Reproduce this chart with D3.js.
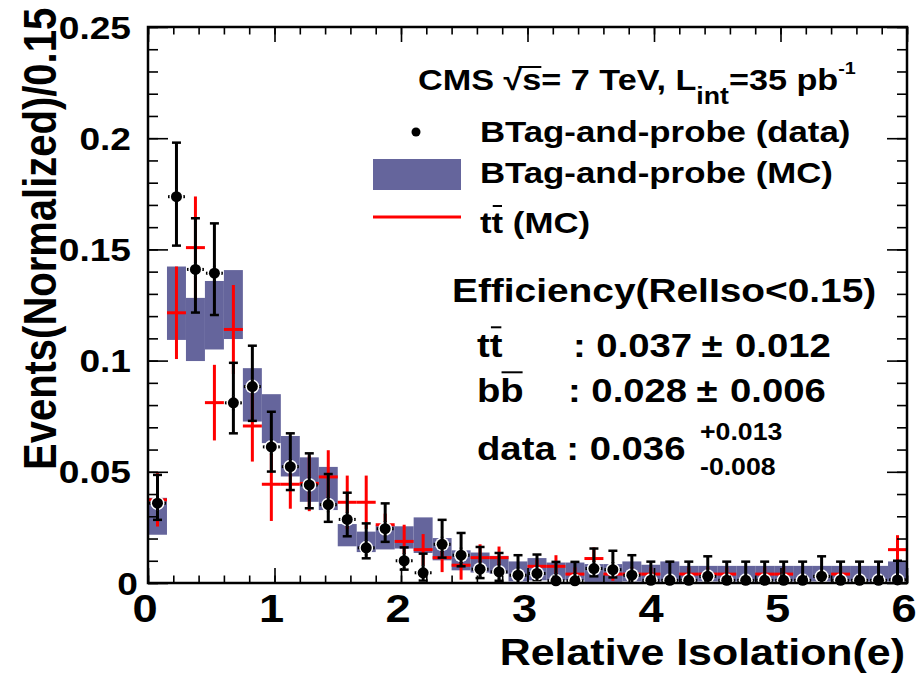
<!DOCTYPE html>
<html>
<head>
<meta charset="utf-8">
<script src="https://cdn.jsdelivr.net/npm/d3@7"></script>
<style>
body { margin:0; background:#fff; }
svg { display:block; }
text { font-family:"Liberation Sans", Arial, sans-serif; font-weight:bold; fill:#000; }
</style>
</head>
<body>
<script>
// histogram: 40 bins of 0.15 in relative isolation
var binWidth = 0.15;
var nBins = 40;

// BTag-and-probe data (value, up error, down error)
var dataVal = [0.0359,0.1737,0.141,0.1393,0.081,0.0883,0.0612,0.0523,0.0441,0.0352,0.0286,0.0158,0.0244,0.010,0.0046,0.0174,0.0125,0.0062,0.005,0.0035,0.0043,0.0010,0.0010,0.0065,0.0060,0.0035,0.0012,0.0012,0.0012,0.0030,0.0012,0.0012,0.0012,0.0012,0.0012,0.0030,0.0012,0.0012,0.0012,0.0014];
var dataUp  = [0.0127,0.0243,0.023,0.0224,0.018,0.0184,0.0158,0.015,0.0142,0.0138,0.012,0.011,0.0114,0.006,0.0086,0.011,0.010,0.010,0.0085,0.009,0.0085,0.0085,0.0085,0.009,0.0085,0.009,0.0084,0.0084,0.0084,0.009,0.0084,0.0084,0.0084,0.0084,0.0084,0.009,0.0084,0.0084,0.0084,0.0086];
var dataDn  = [0.0075,0.022,0.0194,0.0188,0.0137,0.0154,0.0111,0.0105,0.0105,0.0077,0.0076,0.0047,0.0059,0.004,0.0035,0.006,0.005,0.004,0.004,0.003,0.003,0.001,0.001,0.0035,0.0035,0.003,0.0012,0.0012,0.0012,0.003,0.0012,0.0012,0.0012,0.0012,0.0012,0.003,0.0012,0.0012,0.0012,0.0014];

// BTag-and-probe MC band (centre, half height)
var mcVal = [0.030,0.1258,0.114,0.1204,0.1252,0.0846,0.0739,0.057,0.0465,0.0425,0.0215,0.0185,0.0205,0.0205,0.0215,0.0152,0.0102,0.0092,0.0082,0.0052,0.0062,0.0052,0.0052,0.0045,0.0045,0.0052,0.0042,0.0052,0.0042,0.0042,0.0042,0.0042,0.0042,0.0042,0.0042,0.0042,0.0042,0.0042,0.0042,0.0052];
var mcErr = [0.0083,0.0165,0.0142,0.0154,0.0155,0.012,0.011,0.0091,0.010,0.0097,0.005,0.0046,0.0054,0.005,0.008,0.005,0.0045,0.0045,0.004,0.0045,0.005,0.004,0.004,0.004,0.004,0.0045,0.004,0.0045,0.0035,0.0035,0.0035,0.0035,0.0035,0.0035,0.0035,0.0035,0.0035,0.0035,0.0035,0.0045];

// ttbar MC (value, error); 0 = empty bin
var ttVal = [0.0374,0.1215,0.1508,0.0811,0.114,0.0706,0.0444,0.0444,0.0448,0.0477,0.0363,0.0363,0.0262,0.0187,0.015,0.0114,0.008,0.0114,0.0114,0,0.0075,0.0075,0.004,0.011,0.004,0.004,0.004,0,0.004,0.004,0.004,0,0.004,0.004,0,0,0.004,0,0,0.015];
var ttErr = [0.012,0.0208,0.023,0.017,0.020,0.016,0.0165,0.011,0.0125,0.012,0.012,0.012,0.005,0.0075,0.007,0.0065,0.0065,0.006,0.005,0,0.003,0.005,0.003,0.005,0.003,0.003,0.003,0,0.003,0.003,0.003,0,0.003,0.003,0,0,0.003,0,0,0.0065];

var yTickValues = [0, 0.05, 0.1, 0.15, 0.2, 0.25];
var yTickLabels = ["0", "0.05", "0.1", "0.15", "0.2", "0.25"];
var xTickValues = [0, 1, 2, 3, 4, 5, 6];
var xTickLabels = ["0", "1", "2", "3", "4", "5", "6"];

var W = 918, H = 673;
var SX = 1.16; // the picture is stretched sideways

var svg = d3.select(document.body).append('svg')
    .attr('width', W).attr('height', H);

var x = d3.scaleLinear().domain([0, 6]).range([148, 907]);
var y = d3.scaleLinear().domain([0, 0.25]).range([583, 27]);

var centers = d3.range(nBins).map(function(i){ return (i + 0.5) * binWidth; });
var bw = x(binWidth) - x(0);

// text helper, stretched along x
function stext(parent, px, py, size, anchor, str){
    var g = parent.append('g').attr('transform', 'translate(' + px + ',' + py + ') scale(' + SX + ',1)');
    var t = g.append('text').attr('font-size', size).attr('text-anchor', anchor || 'start');
    if (str !== undefined) t.text(str);
    return {g: g, t: t};
}

/** MC band */
svg.append('g').selectAll('rect')
    .data(centers)
    .join('rect')
    .attr('x', function(d){ return x(d - binWidth / 2); })
    .attr('width', bw)
    .attr('y', function(d, i){ return y(mcVal[i] + mcErr[i]); })
    .attr('height', function(d, i){ return y(Math.max(0, mcVal[i] - mcErr[i])) - y(mcVal[i] + mcErr[i]); })
    .attr('fill', '#65659c');

/** ttbar crosses */
var ttIdx = d3.range(nBins).filter(function(i){ return ttVal[i] > 0; });
var gtt = svg.append('g').attr('stroke', '#ff0000').attr('stroke-width', 3);
gtt.selectAll('line.v').data(ttIdx).join('line').attr('class', 'v')
    .attr('x1', function(i){ return x(centers[i]); })
    .attr('x2', function(i){ return x(centers[i]); })
    .attr('y1', function(i){ return y(ttVal[i] + ttErr[i]); })
    .attr('y2', function(i){ return y(Math.max(0, ttVal[i] - ttErr[i])); });
gtt.selectAll('line.h').data(ttIdx).join('line').attr('class', 'h')
    .attr('x1', function(i){ return x(centers[i] - binWidth / 2); })
    .attr('x2', function(i){ return x(centers[i] + binWidth / 2); })
    .attr('y1', function(i){ return y(ttVal[i]); })
    .attr('y2', function(i){ return y(ttVal[i]); });

/** data points */
var gd = svg.append('g').attr('stroke', '#000');
var idx = d3.range(nBins);
gd.selectAll('line.h').data(idx).join('line').attr('class', 'h')
    .attr('stroke-width', 3)
    .attr('x1', function(i){ return x(centers[i] - binWidth / 2) + 1; })
    .attr('x2', function(i){ return x(centers[i] + binWidth / 2) - 1; })
    .attr('y1', function(i){ return y(dataVal[i]); })
    .attr('y2', function(i){ return y(dataVal[i]); });
gd.selectAll('line.v').data(idx).join('line').attr('class', 'v')
    .attr('stroke-width', 3)
    .attr('x1', function(i){ return x(centers[i]); })
    .attr('x2', function(i){ return x(centers[i]); })
    .attr('y1', function(i){ return y(dataVal[i] + dataUp[i]); })
    .attr('y2', function(i){ return y(Math.max(0, dataVal[i] - dataDn[i])); });
gd.selectAll('line.cu').data(idx).join('line').attr('class', 'cu')
    .attr('stroke-width', 2.5)
    .attr('x1', function(i){ return x(centers[i]) - 4.5; })
    .attr('x2', function(i){ return x(centers[i]) + 4.5; })
    .attr('y1', function(i){ return y(dataVal[i] + dataUp[i]); })
    .attr('y2', function(i){ return y(dataVal[i] + dataUp[i]); });
var lowIdx = idx.filter(function(i){ return dataVal[i] - dataDn[i] > 0.0005; });
gd.selectAll('line.cd').data(lowIdx).join('line').attr('class', 'cd')
    .attr('stroke-width', 2.5)
    .attr('x1', function(i){ return x(centers[i]) - 4.5; })
    .attr('x2', function(i){ return x(centers[i]) + 4.5; })
    .attr('y1', function(i){ return y(dataVal[i] - dataDn[i]); })
    .attr('y2', function(i){ return y(dataVal[i] - dataDn[i]); });
gd.selectAll('circle.w').data(idx).join('circle').attr('class', 'w')
    .attr('stroke', 'none').attr('fill', '#fff').attr('r', 7)
    .attr('cx', function(i){ return x(centers[i]); })
    .attr('cy', function(i){ return y(dataVal[i]); });
gd.selectAll('line.v2').data(idx).join('line').attr('class', 'v2')
    .attr('stroke-width', 3)
    .attr('x1', function(i){ return x(centers[i]); })
    .attr('x2', function(i){ return x(centers[i]); })
    .attr('y1', function(i){ return y(dataVal[i]) - 7.5; })
    .attr('y2', function(i){ return Math.min(y(0), y(dataVal[i]) + 7.5); });
gd.selectAll('circle.m').data(idx).join('circle').attr('class', 'm')
    .attr('stroke', 'none').attr('fill', '#000').attr('r', 5.5)
    .attr('cx', function(i){ return x(centers[i]); })
    .attr('cy', function(i){ return y(dataVal[i]); });

/** frame and ticks */
var yMinor = d3.range(0, 0.2501, 0.01);
var xMinor = d3.range(0, 6.001, 0.2);
var ga = svg.append('g');
ga.append('g').attr('transform', 'translate(148,0)')
    .call(d3.axisRight(y).tickValues(yMinor).tickSize(10).tickFormat(''));
ga.append('g').attr('transform', 'translate(148,0)')
    .call(d3.axisRight(y).tickValues(yTickValues).tickSize(20).tickFormat(''));
ga.append('g').attr('transform', 'translate(907,0)')
    .call(d3.axisLeft(y).tickValues(yMinor).tickSize(10).tickFormat(''));
ga.append('g').attr('transform', 'translate(907,0)')
    .call(d3.axisLeft(y).tickValues(yTickValues).tickSize(20).tickFormat(''));
ga.append('g').attr('transform', 'translate(0,583)')
    .call(d3.axisTop(x).tickValues(xMinor).tickSize(7.5).tickFormat(''));
ga.append('g').attr('transform', 'translate(0,583)')
    .call(d3.axisTop(x).tickValues(xTickValues).tickSize(15).tickFormat(''));
ga.append('g').attr('transform', 'translate(0,27)')
    .call(d3.axisBottom(x).tickValues(xMinor).tickSize(7.5).tickFormat(''));
ga.append('g').attr('transform', 'translate(0,27)')
    .call(d3.axisBottom(x).tickValues(xTickValues).tickSize(15).tickFormat(''));
ga.selectAll('.domain').remove();
ga.selectAll('.tick line').attr('stroke', '#000').attr('stroke-width', 1.6);

svg.append('rect')
    .attr('x', x(0)).attr('y', y(0.25))
    .attr('width', x(6) - x(0)).attr('height', y(0) - y(0.25))
    .attr('fill', 'none').attr('stroke', '#000').attr('stroke-width', 2.5);

/** tick labels */
yTickValues.forEach(function(v, i){
    stext(svg, v === 0 ? 138 : 131, y(v) + 11.5, 32, 'end', yTickLabels[i]);
});
xTickValues.forEach(function(v, i){
    stext(svg, x(v) - 3, 622, 39, 'middle', xTickLabels[i]);
});

/** axis titles */
stext(svg, 905, 665, 37, 'end', 'Relative Isolation(e)');
svg.append('g')
    .attr('transform', 'translate(56,470) scale(' + SX + ',1) rotate(-90)')
    .append('text').attr('font-size', 40).text('Events(Normalized)/0.15');

/** header */
var cms = stext(svg, 418, 90, 29.5, 'start');
cms.t.append('tspan').text('CMS \u221As= 7 TeV, L');
cms.t.append('tspan').attr('font-size', 23).attr('dy', 14).text('int');
cms.t.append('tspan').attr('dy', -14).text('=35 pb');
cms.t.append('tspan').attr('font-size', 17).attr('dy', -16).text('-1');
var cn = cms.t.node();
var sx0 = cn.getSubStringLength(0, 4) + cn.getSubStringLength(4, 1) * 0.8;
var sx1 = cn.getSubStringLength(0, 6);
cms.g.append('line').attr('x1', sx0).attr('x2', sx1)
    .attr('y1', -23).attr('y2', -23).attr('stroke', '#000').attr('stroke-width', 2);

/** legend */
var gl = svg.append('g');
gl.append('circle').attr('cx', 416).attr('cy', 132).attr('r', 4.5).attr('fill', '#000');
gl.append('rect').attr('x', 373).attr('y', 159).attr('width', 88).attr('height', 31).attr('fill', '#65659c');
gl.append('line').attr('x1', 373).attr('x2', 461).attr('y1', 217).attr('y2', 217)
    .attr('stroke', '#ff0000').attr('stroke-width', 3);
stext(gl, 480, 142, 30, 'start', 'BTag-and-probe (data)');
stext(gl, 480, 183, 30, 'start', 'BTag-and-probe (MC)');
var lt = stext(gl, 480, 233, 30, 'start', 'tt (MC)');
function overbar(o, from, size){
    var n = o.t.node();
    var a = n.getSubStringLength(0, from);
    var w = n.getSubStringLength(from, 1);
    o.g.append('line').attr('x1', a + 1).attr('x2', a + w - 1)
        .attr('y1', -size * 0.9).attr('y2', -size * 0.9)
        .attr('stroke', '#000').attr('stroke-width', 2);
}
overbar(lt, 1, 30);

/** efficiencies */
stext(svg, 452, 302, 33.5, 'start', 'Efficiency(RelIso<0.15)');
var e1 = stext(svg, 477, 357, 33, 'start', 'tt');
overbar(e1, 1, 33);
stext(svg, 573, 357, 33, 'start', ': 0.037');
stext(svg, 712, 357, 33, 'middle', '\u00B1').t.attr('font-weight', 'normal');
stext(svg, 735, 357, 33, 'start', '0.012');
var e2 = stext(svg, 477, 402, 33, 'start', 'bb');
overbar(e2, 1, 33);
stext(svg, 568, 402, 33, 'start', ': 0.028');
stext(svg, 707, 402, 33, 'middle', '\u00B1').t.attr('font-weight', 'normal');
stext(svg, 730, 402, 33, 'start', '0.006');
stext(svg, 477, 460, 33, 'start', 'data : 0.036');
stext(svg, 700, 440, 23, 'start', '+0.013');
stext(svg, 700, 475, 23, 'start', '-0.008');
</script>
</body>
</html>
